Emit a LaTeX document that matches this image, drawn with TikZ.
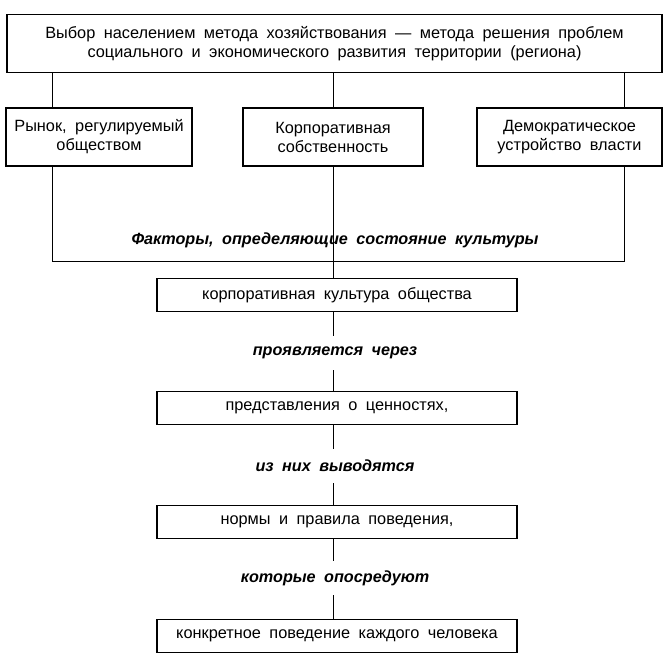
\documentclass[tikz,border=0pt]{standalone}
\usepackage{fontspec}
\setmainfont{Liberation Sans}
\newcommand{\wsp}{\spaceskip=0.52em plus 0.1em\relax}
\begin{document}
\begin{tikzpicture}[x=1pt,y=-1pt,
  box/.style={draw, line width=1.1pt, inner sep=0pt, align=center,
    font=\fontsize{16.3}{19}\selectfont\wsp},
  chain/.style={box, minimum width=360pt, minimum height=33pt},
  lab/.style={inner sep=0pt, minimum height=34pt,
    font=\fontsize{16.2}{18}\selectfont\bfseries\itshape\wsp},
  conn/.style={line width=1pt}]
\useasboundingbox (0,0) rectangle (670,660);
\fill[white] (0,0) rectangle (670,660);
\node[box, minimum width=655pt, minimum height=58pt] (top) at (334.5,43.5)
  {Выбор населением метода хозяйствования — метода решения проблем\\
   социального и экономического развития территории (региона)};
\node[box, minimum width=186pt, minimum height=58pt] (left) at (99,137)
  {Рынок, регулируемый\\обществом};
\node[box, minimum width=180pt, minimum height=58pt] (mid) at (333,137)
  {Корпоративная\\собственность};
\node[box, minimum width=185pt, minimum height=58pt] (right) at (569.5,137)
  {Демократическое\\устройство власти};
\node[lab] (fac) at (335,240) {Факторы, определяющие состояние культуры};
\node[chain] (b1) at (337,295) {корпоративная культура общества};
\node[lab] (l1) at (335,353) {проявляется через};
\node[chain] (b2) at (337,408) {представления о ценностях,};
\node[lab] (l2) at (335,466) {из них выводятся};
\node[chain] (b3) at (337,522) {нормы и правила поведения,};
\node[lab] (l3) at (335,578) {которые опосредуют};
\node[chain] (b4) at (337,636) {конкретное поведение каждого человека};
\coordinate (jl) at (52,262);
\coordinate (jr) at (624,262);
% top to three boxes
\draw[conn] (top.south -| jl) -- (left.north -| jl);
\draw[conn] (top.south -| mid) -- (mid.north);
\draw[conn] (top.south -| jr) -- (right.north -| jr);
% bracket
\draw[conn] (left.south -| jl) -- (jl) -- (jr) -- (right.south -| jr);
\draw[conn] (mid.south) -- (b1.north -| mid);
% chain
\draw[conn] (b1.south -| mid) -- (l1.north -| mid);
\draw[conn] (l1.south -| mid) -- (b2.north -| mid);
\draw[conn] (b2.south -| mid) -- (l2.north -| mid);
\draw[conn] (l2.south -| mid) -- (b3.north -| mid);
\draw[conn] (b3.south -| mid) -- (l3.north -| mid);
\draw[conn] (l3.south -| mid) -- (b4.north -| mid);
\end{tikzpicture}
\end{document}
